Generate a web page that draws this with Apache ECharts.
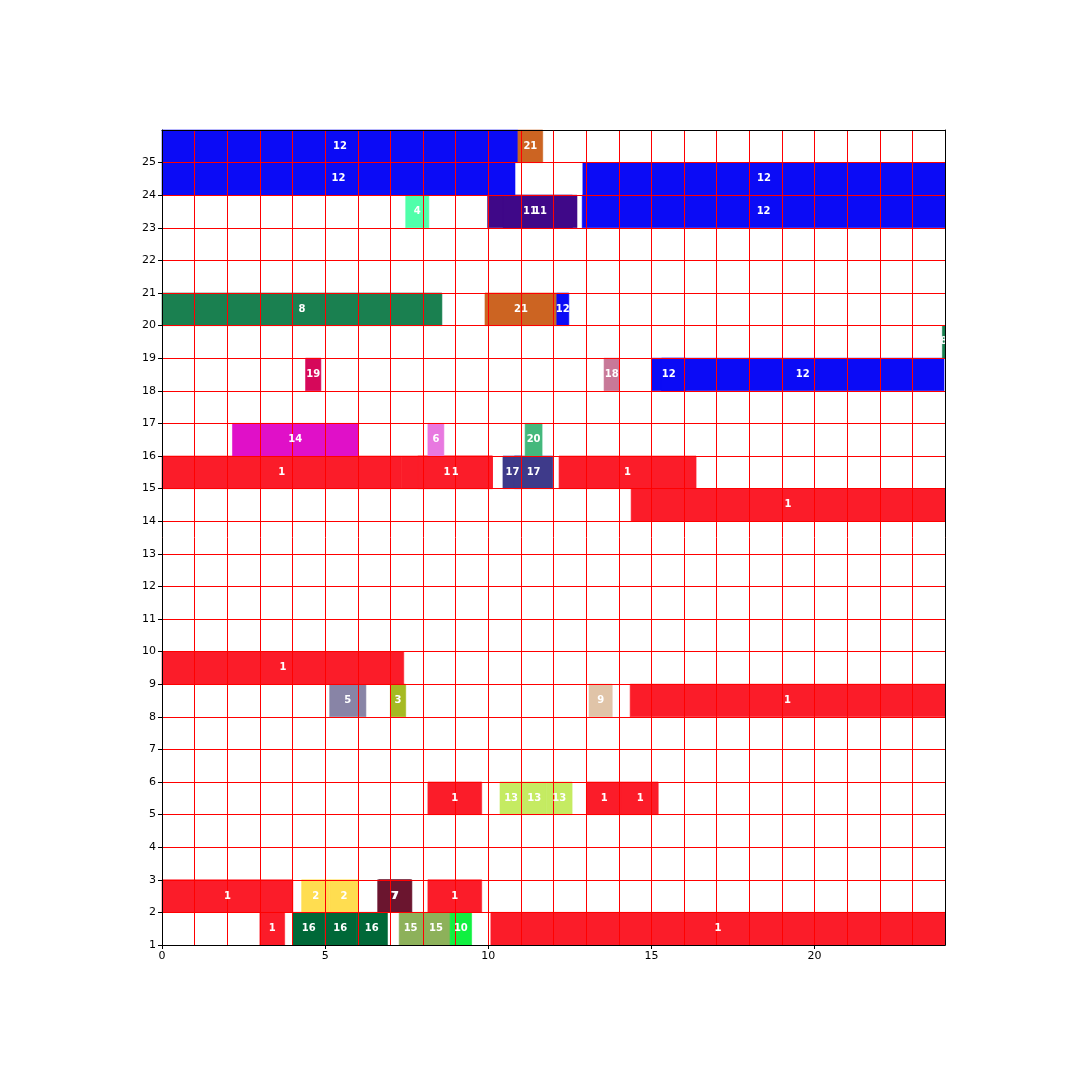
<!DOCTYPE html>
<html>
<head>
<meta charset="utf-8">
<script src="https://cdn.jsdelivr.net/npm/echarts@6/dist/echarts.min.js"></script>
<style>
html,body{margin:0;padding:0;background:#fff;}
#main{width:1080px;height:1080px;}
</style>
</head>
<body>
<div id="main"></div>
<script>
// one entry per bar segment: id label, row (bottom y), start and end on x
var segIds    = [1, 16, 16, 16, 15, 15, 10, 1,
                 1, 2, 2, 7, 7, 1,
                 1, 13, 13, 13, 1, 1,
                 5, 3, 9, 1,
                 1,
                 1,
                 1, 1, 1, 17, 17, 1,
                 14, 6, 20,
                 19, 18, 12, 12,
                 8,
                 8, 21, 12,
                 4, 11, 11, 12,
                 12, 12,
                 12, 21];
var segRows   = [1, 1, 1, 1, 1, 1, 1, 1,
                 2, 2, 2, 2, 2, 2,
                 5, 5, 5, 5, 5, 5,
                 8, 8, 8, 8,
                 9,
                 14,
                 15, 15, 15, 15, 15, 15,
                 16, 16, 16,
                 18, 18, 18, 18,
                 19,
                 20, 20, 20,
                 23, 23, 23, 23,
                 24, 24,
                 25, 25];
var segStarts = [3.0, 4.01, 4.98, 5.95, 7.27, 7.97, 8.83, 10.08,
                 0, 4.28, 5.14, 6.61, 6.65, 8.15,
                 8.15, 10.36, 11.04, 11.78, 13.01, 14.1,
                 5.14, 7.0, 13.09, 14.35,
                 0,
                 14.38,
                 0, 7.34, 7.84, 10.45, 10.8, 12.17,
                 2.16, 8.15, 11.13,
                 4.40, 13.55, 15.01, 15.31,
                 23.92,
                 0, 9.90, 12.10,
                 7.47, 9.98, 10.46, 12.88,
                 0, 12.9,
                 0, 10.91];
var segEnds   = [3.76, 4.98, 5.95, 6.91, 7.97, 8.83, 9.49, 24,
                 4.01, 5.14, 6.01, 7.62, 7.66, 9.80,
                 9.80, 11.04, 11.78, 12.57, 14.1, 15.21,
                 6.25, 7.47, 13.80, 24,
                 7.41,
                 24,
                 7.34, 10.13, 10.13, 11.03, 11.98, 16.37,
                 6.01, 8.64, 11.65,
                 4.87, 14.02, 16.05, 23.97,
                 24.0,
                 8.58, 12.10, 12.47,
                 8.18, 12.58, 12.72, 24,
                 10.82, 24,
                 10.91, 11.67];

var xMin = 0, xMax = 24;
var yMin = 1, yMax = 26;

var idColors = {
    1: '#fb1c29', 2: '#ffdd50', 3: '#a5ba22', 4: '#50ffaa', 5: '#8884a6',
    6: '#e878e0', 7: '#6b152f', 8: '#1a8050', 9: '#e0c4a8', 10: '#10f040',
    11: '#3f0888', 12: '#0b0bf6', 13: '#c5eb62', 14: '#e010c8', 15: '#8db15a',
    16: '#006838', 17: '#3e3a8a', 18: '#c87898', 19: '#d6085a', 20: '#44b87c',
    21: '#cc6422'
};

var chart = echarts.init(document.getElementById('main'));

var data = [];
for (var i = 0; i < segIds.length; i++) {
    data.push([segStarts[i], segEnds[i], segRows[i], segIds[i]]);
}

function renderBar(params, api) {
    var p0 = api.coord([api.value(0), api.value(2)]);
    var p1 = api.coord([api.value(1), api.value(2) + 1]);
    var shape = echarts.graphic.clipRectByRect({
        x: p0[0], y: p1[1], width: p1[0] - p0[0], height: p0[1] - p1[1]
    }, params.coordSys);
    var col = idColors[api.value(3)];
    return shape && {
        type: 'rect',
        shape: shape,
        style: { fill: col, stroke: col, lineWidth: 0.6 }  // stroke hides seams between joined segments
    };
}

function renderText(params, api) {
    var c = api.coord([(api.value(0) + api.value(1)) / 2, api.value(2) + 0.5]);
    return {
        type: 'text',
        x: c[0],
        y: c[1],
        style: {
            text: String(api.value(3)),
            fill: '#fff',
            fontFamily: 'DejaVu Sans',
            fontWeight: 'bold',
            fontSize: 10,
            align: 'center',
            verticalAlign: 'middle'
        }
    };
}

var gridLine = { show: true, lineStyle: { color: '#ff0000', width: 1 } };
var frame = { show: true, onZero: false, lineStyle: { color: '#000', width: 1 } };
var tickLabel = { color: '#000', fontFamily: 'DejaVu Sans', fontSize: 11 };

var option = {
    backgroundColor: '#fff',
    animation: false,
    grid: { left: 162, right: 135, top: 130, bottom: 135 },
    xAxis: [{
        // fine red grid every 1 unit
        type: 'value', min: xMin, max: xMax, interval: 1, position: 'bottom', z: 3,
        axisLine: frame, axisTick: { show: false }, axisLabel: { show: false },
        splitLine: gridLine
    }, {
        // labels and ticks every 5
        type: 'value', min: xMin, max: xMax, interval: 5, position: 'bottom', z: 4,
        axisLine: frame,
        axisTick: { show: true, length: 4, lineStyle: { color: '#000' } },
        axisLabel: Object.assign({ showMaxLabel: false, margin: 6 }, tickLabel),
        splitLine: { show: false }
    }, {
        type: 'value', min: xMin, max: xMax, position: 'top', z: 4,
        axisLine: frame, axisTick: { show: false }, axisLabel: { show: false },
        splitLine: { show: false }
    }],
    yAxis: [{
        type: 'value', min: yMin, max: yMax, interval: 1, position: 'left', z: 3,
        axisLine: frame,
        axisTick: { show: true, length: 4, lineStyle: { color: '#000' } },
        axisLabel: Object.assign({ showMaxLabel: false, margin: 6 }, tickLabel),
        splitLine: gridLine
    }, {
        type: 'value', min: yMin, max: yMax, position: 'right', z: 4,
        axisLine: frame, axisTick: { show: false }, axisLabel: { show: false },
        splitLine: { show: false }
    }],
    series: [{
        type: 'custom',
        renderItem: renderBar,
        encode: { x: [0, 1], y: 2 },
        data: data,
        z: 1
    }, {
        type: 'custom',
        renderItem: renderText,
        encode: { x: [0, 1], y: 2 },
        data: data,
        clip: true,
        z: 5
    }]
};
chart.setOption(option);
</script>
</body>
</html>
